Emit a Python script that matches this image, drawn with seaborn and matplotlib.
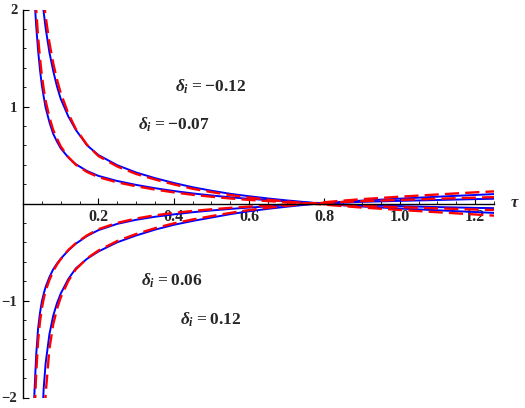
import pandas as pd
import seaborn as sns
import matplotlib.pyplot as plt
from matplotlib.ticker import FixedLocator, MultipleLocator

# ---- data ----
tau = [0.025, 0.03, 0.035, 0.04, 0.045, 0.05, 0.055, 0.06, 0.07, 0.08, 0.09, 0.10,
       0.12, 0.14, 0.17, 0.20, 0.25, 0.30, 0.35, 0.40, 0.45, 0.50, 0.55, 0.60,
       0.65, 0.70, 0.75, 0.80, 0.85, 0.90, 1.0, 1.1, 1.2, 1.25]

# solid blue curves
blue_m012 = [4.0, 3.4, 2.99, 2.65, 2.37, 2.15, 1.97, 1.81, 1.56, 1.37, 1.21, 1.08,
             0.90, 0.76, 0.60, 0.50, 0.395, 0.32, 0.262, 0.212, 0.168, 0.132, 0.10, 0.075,
             0.052, 0.032, 0.014, -0.003, -0.018, -0.031, -0.052, -0.07, -0.088, -0.097]
blue_m007 = [2.6, 2.15, 1.83, 1.58, 1.38, 1.22, 1.10, 0.99, 0.84, 0.72, 0.64, 0.57,
             0.475, 0.405, 0.335, 0.285, 0.232, 0.192, 0.158, 0.129, 0.104, 0.083, 0.064, 0.048,
             0.035, 0.022, 0.01, -0.002, -0.01, -0.017, -0.027, -0.037, -0.045, -0.048]
blue_p006 = [-2.6, -1.98, -1.56, -1.29, -1.13, -1.01, -0.93, -0.86, -0.76, -0.68, -0.62, -0.57,
             -0.485, -0.415, -0.335, -0.275, -0.21, -0.168, -0.137, -0.112, -0.09, -0.072, -0.056, -0.042,
             -0.03, -0.018, -0.008, 0.002, 0.01, 0.017, 0.027, 0.036, 0.045, 0.049]
blue_p012 = [-5.6, -4.6, -3.8, -3.2, -2.7, -2.3, -1.9, -1.65, -1.35, -1.16, -1.03, -0.93,
             -0.78, -0.67, -0.57, -0.495, -0.40, -0.33, -0.27, -0.22, -0.18, -0.145, -0.11, -0.08,
             -0.055, -0.033, -0.013, 0.004, 0.018, 0.03, 0.05, 0.07, 0.088, 0.097]

# dashed red curves
red_m012 = [4.8, 3.9, 3.3, 2.9, 2.55, 2.3, 2.1, 1.93, 1.66, 1.45, 1.28, 1.14,
            0.93, 0.77, 0.605, 0.49, 0.382, 0.305, 0.248, 0.197, 0.152, 0.118, 0.087, 0.061,
            0.039, 0.02, 0.004, -0.012, -0.027, -0.042, -0.066, -0.09, -0.113, -0.125]
red_m007 = [3.0, 2.4, 2.0, 1.72, 1.5, 1.32, 1.18, 1.06, 0.89, 0.76, 0.67, 0.59,
            0.48, 0.40, 0.325, 0.272, 0.218, 0.178, 0.144, 0.115, 0.09, 0.07, 0.052, 0.037,
            0.025, 0.013, 0.003, -0.007, -0.016, -0.025, -0.038, -0.05, -0.062, -0.067]
red_p006 = [-3.0, -2.25, -1.75, -1.42, -1.22, -1.08, -0.98, -0.9, -0.79, -0.7, -0.63, -0.575,
            -0.48, -0.41, -0.328, -0.265, -0.2, -0.155, -0.122, -0.097, -0.077, -0.06, -0.045, -0.032,
            -0.021, -0.011, -0.002, 0.007, 0.016, 0.024, 0.037, 0.049, 0.06, 0.066]
red_p012 = [-6.5, -5.3, -4.4, -3.7, -3.2, -2.8, -2.35, -1.97, -1.5, -1.25, -1.09, -0.97,
            -0.8, -0.68, -0.565, -0.485, -0.387, -0.315, -0.255, -0.205, -0.165, -0.13, -0.097, -0.068,
            -0.044, -0.023, -0.005, 0.013, 0.03, 0.045, 0.07, 0.093, 0.115, 0.125]

labels = [r'$\delta_i$=−0.12', r'$\delta_i$=−0.07', r'$\delta_i$=0.06', r'$\delta_i$=0.12']
label_pos = [(0.499, 1.20), (0.399, 0.81), (0.394, -0.80), (0.499, -1.20)]

x_ticks = [0.2, 0.4, 0.6, 0.8, 1.0, 1.2]
y_ticks = [-2, -1, 1, 2]
y_ticklabels = ['−2', '−1', '1', '2']

# ---- plot ----
sns.set_style('white')
plt.rcParams['font.family'] = ['Liberation Serif', 'DejaVu Serif']
plt.rcParams['font.weight'] = 'bold'
plt.rcParams['mathtext.fontset'] = 'custom'
plt.rcParams['mathtext.it'] = 'Liberation Serif:italic:bold'
plt.rcParams['mathtext.rm'] = 'Liberation Serif:bold'

fig = plt.figure(figsize=(5.25, 4.08), dpi=100)
ax = fig.add_axes([23 / 525, 10.5 / 408, (494 - 23) / 525, 388 / 408])

for vals in [blue_m012, blue_m007, blue_p006, blue_p012]:
    sns.lineplot(x=tau, y=vals, color='#0000ff', lw=1.4, ax=ax, sort=False)
for vals in [red_m012, red_m007, red_p006, red_p012]:
    sns.lineplot(x=tau, y=vals, color='#ff0000', lw=1.7, ax=ax, sort=False,
                 linestyle=(0, (6, 2.6)))

ax.set_xlim(0, 1.25)
ax.set_ylim(-2, 2)

ax.spines['left'].set_position(('data', 0))
ax.spines['bottom'].set_position(('data', 0))
ax.spines['top'].set_visible(False)
ax.spines['right'].set_visible(False)
for s in ['left', 'bottom']:
    ax.spines[s].set_color('black')
    ax.spines[s].set_linewidth(1.0)

ax.xaxis.set_major_locator(FixedLocator(x_ticks))
ax.xaxis.set_minor_locator(MultipleLocator(0.05))
ax.set_xticklabels([f'{t:.1f}' for t in x_ticks])
ax.yaxis.set_major_locator(FixedLocator(y_ticks))
ax.yaxis.set_minor_locator(MultipleLocator(0.2))
ax.set_yticklabels(y_ticklabels)

ax.tick_params(which='both', bottom=True, left=True, top=False, right=False)
ax.tick_params(which='major', direction='in', length=4.5, width=0.8, color='black',
               labelsize=11.5, pad=4)
ax.tick_params(which='minor', direction='in', length=2.5, width=0.6, color='black')
ax.tick_params(axis='y', which='major', pad=4, labelsize=10.5)
for lab in ax.get_xticklabels() + ax.get_yticklabels():
    lab.set_fontweight('bold')

ax.set_xlabel('')
ax.set_ylabel('')

for txt, (xp, yp) in zip(labels, label_pos):
    ax.text(xp, yp, txt.replace('=', '\u2009=\u2009'), ha='center', va='center',
            fontsize=12.5, fontweight='bold')

fig.text(515 / 525, 1 - 203 / 408, r'$\tau$', fontsize=12, ha='center', va='center')

plt.savefig('out.png', dpi=100)
